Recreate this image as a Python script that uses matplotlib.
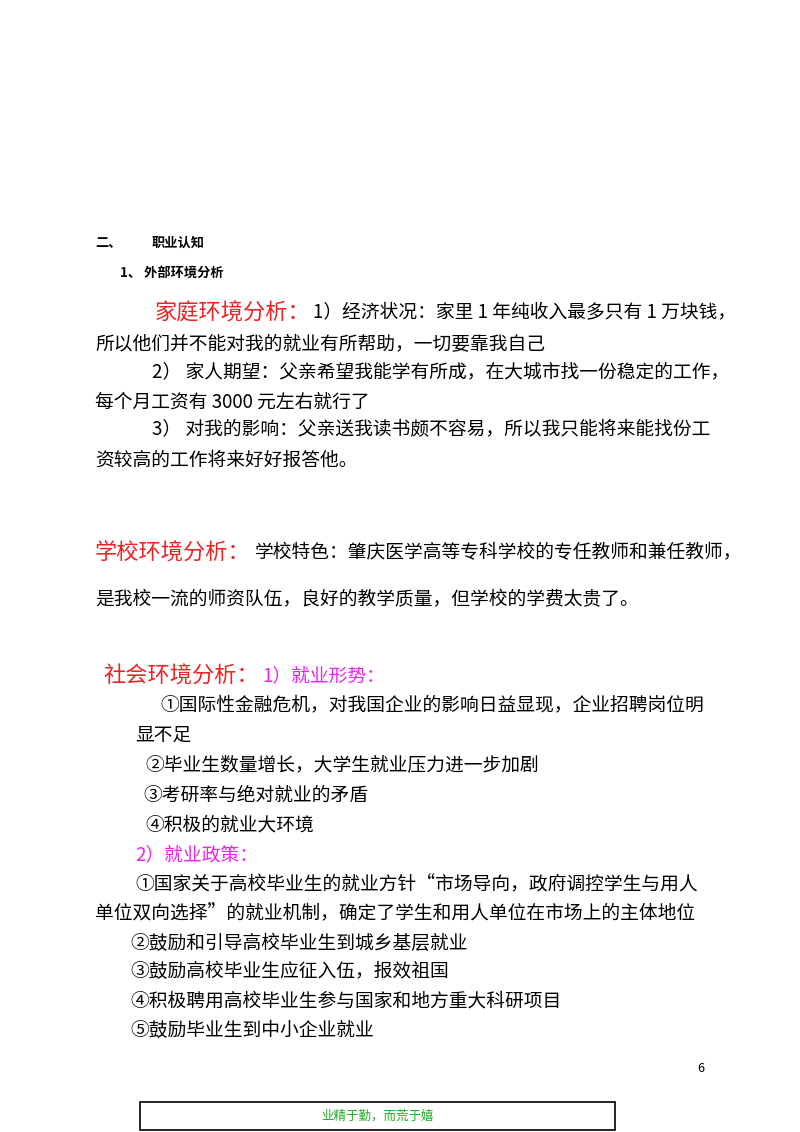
import matplotlib.pyplot as plt
from matplotlib.patches import Rectangle

plt.rcParams['font.family'] = ['Noto Sans CJK SC', 'DejaVu Sans']

W, H = 800, 1132

# (x px, y px, text, colour, size pt, weight)
lines = [
    (95, 243, '二、', 'black', 9.5, 'bold'),
    (152, 243, '职业认知', 'black', 9.5, 'bold'),
    (120, 273, '1、 外部环境分析', 'black', 9.5, 'bold'),
    (155, 313, '家庭环境分析：', '#ee2222', 16, 'normal'),
    (313, 313, '1）经济状况：家里 1 年纯收入最多只有 1 万块钱，', 'black', 13.5, 'normal'),
    (95, 344, '所以他们并不能对我的就业有所帮助，一切要靠我自己', 'black', 13.5, 'normal'),
    (152, 372, '2） 家人期望：父亲希望我能学有所成，在大城市找一份稳定的工作，', 'black', 13.5, 'normal'),
    (95, 402, '每个月工资有 3000 元左右就行了', 'black', 13.5, 'normal'),
    (152, 430, '3） 对我的影响：父亲送我读书颇不容易，所以我只能将来能找份工', 'black', 13.5, 'normal'),
    (95, 460, '资较高的工作将来好好报答他。', 'black', 13.5, 'normal'),
    (95, 553, '学校环境分析：', '#ee2222', 16, 'normal'),
    (255, 553, '学校特色：肇庆医学高等专科学校的专任教师和兼任教师，', 'black', 13.5, 'normal'),
    (95, 600, '是我校一流的师资队伍，良好的教学质量，但学校的学费太贵了。', 'black', 13.5, 'normal'),
    (103, 676, '社会环境分析：', '#ee2222', 16, 'normal'),
    (262, 676, '1）就业形势：', '#ee22ee', 13.5, 'normal'),
    (160, 705, '①国际性金融危机，对我国企业的影响日益显现，企业招聘岗位明', 'black', 13.5, 'normal'),
    (135, 735, '显不足', 'black', 13.5, 'normal'),
    (145, 765, '②毕业生数量增长，大学生就业压力进一步加剧', 'black', 13.5, 'normal'),
    (143, 795, '③考研率与绝对就业的矛盾', 'black', 13.5, 'normal'),
    (145, 825, '④积极的就业大环境', 'black', 13.5, 'normal'),
    (135, 855, '2）就业政策：', '#ee22ee', 13.5, 'normal'),
    (135, 885, '①国家关于高校毕业生的就业方针“市场导向，政府调控学生与用人', 'black', 13.5, 'normal'),
    (95, 914, '单位双向选择”的就业机制，确定了学生和用人单位在市场上的主体地位', 'black', 13.5, 'normal'),
    (130, 943, '②鼓励和引导高校毕业生到城乡基层就业', 'black', 13.5, 'normal'),
    (130, 972, '③鼓励高校毕业生应征入伍，报效祖国', 'black', 13.5, 'normal'),
    (130, 1001, '④积极聘用高校毕业生参与国家和地方重大科研项目', 'black', 13.5, 'normal'),
    (130, 1031, '⑤鼓励毕业生到中小企业就业', 'black', 13.5, 'normal'),
    (697, 1068, '6', 'black', 9, 'normal'),
]
footer = '业精于勤，而荒于嬉'

fig = plt.figure(figsize=(W / 100, H / 100), dpi=100)
fig.patch.set_facecolor('white')

for x, y, s, c, size, weight in lines:
    fig.text(x / W, 1 - y / H, s, color=c, fontsize=size, fontweight=weight,
             ha='left', va='center')

fig.patches.append(Rectangle((140 / W, 1 - 1130 / H), 475 / W, 28 / H,
                             transform=fig.transFigure, fill=False,
                             edgecolor='black', linewidth=1.2))
fig.text(377 / W, 1 - 1116 / H, footer, color='#22aa22', fontsize=9,
         ha='center', va='center')

fig.savefig('out.png', dpi=100)
